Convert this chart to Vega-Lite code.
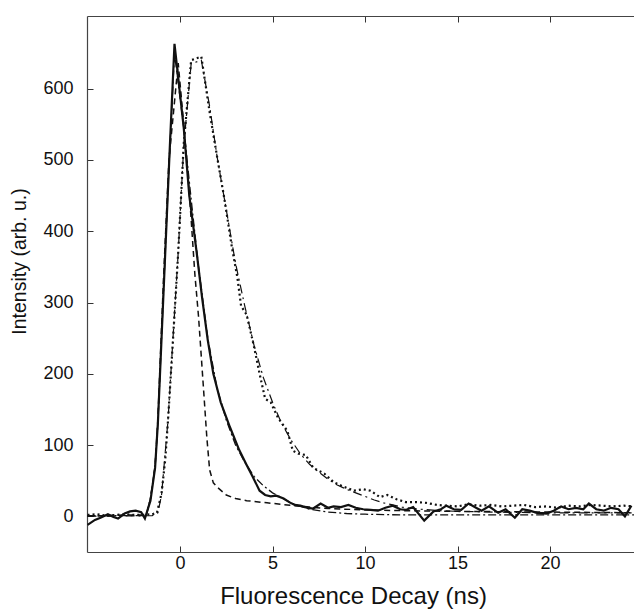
{
  "$schema": "https://vega.github.io/schema/vega-lite/v6.json",
  "autosize": {"type": "none"},
  "padding": {"left": 87, "top": 16, "right": 0, "bottom": 57},
  "width": 547,
  "height": 536,
  "background": "white",
  "config": {
    "view": {"stroke": null},
    "font": "Liberation Sans",
    "axis": {
      "grid": false,
      "domainColor": "#444",
      "domainWidth": 1.2,
      "tickColor": "#333",
      "tickWidth": 1,
      "tickSize": -6,
      "labelFont": "Liberation Sans",
      "labelFontSize": 18,
      "labelColor": "#111",
      "labelPadding": 20,
      "titleFont": "Liberation Sans",
      "titleFontWeight": "normal",
      "titleColor": "#111"
    }
  },
  "datasets": {
    "data1": [
      {"t": -5.0, "v": -12}, {"t": -4.6, "v": -5}, {"t": -4.3, "v": -2}, {"t": -3.9, "v": 3}, {"t": -3.6, "v": -1},
      {"t": -3.35, "v": -3}, {"t": -3.0, "v": 4}, {"t": -2.7, "v": 7}, {"t": -2.4, "v": 8}, {"t": -2.1, "v": 6},
      {"t": -1.9, "v": -3}, {"t": -1.6, "v": 22}, {"t": -1.35, "v": 68}, {"t": -1.2, "v": 130}, {"t": -1.0, "v": 250},
      {"t": -0.8, "v": 370}, {"t": -0.55, "v": 520}, {"t": -0.3, "v": 663}, {"t": 0.2, "v": 545}, {"t": 0.5, "v": 450},
      {"t": 0.9, "v": 370}, {"t": 1.2, "v": 305}, {"t": 1.5, "v": 247}, {"t": 1.8, "v": 200}, {"t": 2.2, "v": 160},
      {"t": 2.7, "v": 125}, {"t": 3.2, "v": 93}, {"t": 3.6, "v": 72}, {"t": 3.9, "v": 57}, {"t": 4.3, "v": 36},
      {"t": 4.6, "v": 30}, {"t": 4.9, "v": 28}, {"t": 5.2, "v": 29}, {"t": 5.6, "v": 25}, {"t": 5.9, "v": 20},
      {"t": 6.2, "v": 16}, {"t": 6.5, "v": 15}, {"t": 6.9, "v": 12}, {"t": 7.2, "v": 11}, {"t": 7.6, "v": 18},
      {"t": 8.0, "v": 12}, {"t": 8.3, "v": 14}, {"t": 8.7, "v": 13}, {"t": 9.1, "v": 16}, {"t": 9.5, "v": 12},
      {"t": 9.9, "v": 10}, {"t": 10.3, "v": 9}, {"t": 10.7, "v": 8}, {"t": 11.1, "v": 12}, {"t": 11.5, "v": 15},
      {"t": 11.9, "v": 10}, {"t": 12.2, "v": 9}, {"t": 12.6, "v": 13}, {"t": 13.2, "v": -6}, {"t": 13.7, "v": 7},
      {"t": 14.1, "v": 10}, {"t": 14.4, "v": 15}, {"t": 14.8, "v": 10}, {"t": 15.2, "v": 9}, {"t": 15.6, "v": 18},
      {"t": 16.0, "v": 12}, {"t": 16.3, "v": 8}, {"t": 16.7, "v": 14}, {"t": 17.2, "v": 5}, {"t": 17.6, "v": 10},
      {"t": 18.1, "v": -2}, {"t": 18.5, "v": 10}, {"t": 18.9, "v": 8}, {"t": 19.3, "v": 5}, {"t": 19.8, "v": 4},
      {"t": 20.2, "v": 8}, {"t": 20.6, "v": 14}, {"t": 21.0, "v": 10}, {"t": 21.4, "v": 12}, {"t": 21.8, "v": 10},
      {"t": 22.1, "v": 18}, {"t": 22.5, "v": 10}, {"t": 22.9, "v": 8}, {"t": 23.3, "v": 12}, {"t": 23.7, "v": 10},
      {"t": 24.05, "v": 0}, {"t": 24.4, "v": 15}
    ],
    "irf": [
      {"t": -5.0, "v": 0}, {"t": -4.0, "v": 1}, {"t": -3.0, "v": 2}, {"t": -2.0, "v": 2}, {"t": -1.8, "v": 4},
      {"t": -1.6, "v": 25}, {"t": -1.35, "v": 70}, {"t": -1.2, "v": 135}, {"t": -0.9, "v": 330}, {"t": -0.6, "v": 500},
      {"t": -0.1, "v": 636}, {"t": 0.2, "v": 550}, {"t": 0.5, "v": 455}, {"t": 0.8, "v": 340}, {"t": 1.0, "v": 280},
      {"t": 1.25, "v": 186}, {"t": 1.45, "v": 110}, {"t": 1.6, "v": 65}, {"t": 1.8, "v": 47}, {"t": 2.05, "v": 40},
      {"t": 2.5, "v": 30}, {"t": 3.0, "v": 25}, {"t": 3.6, "v": 22}, {"t": 4.7, "v": 19}, {"t": 5.8, "v": 16},
      {"t": 7.0, "v": 13}, {"t": 8.0, "v": 11}, {"t": 10.0, "v": 9}, {"t": 12.0, "v": 8}, {"t": 15.0, "v": 7},
      {"t": 20.0, "v": 6}, {"t": 24.6, "v": 5}
    ],
    "fit1": [
      {"t": -5.0, "v": 1}, {"t": -2.0, "v": 1}, {"t": -1.8, "v": 4}, {"t": -1.6, "v": 25}, {"t": -1.35, "v": 70},
      {"t": -1.2, "v": 130}, {"t": -1.0, "v": 250}, {"t": -0.6, "v": 490}, {"t": -0.3, "v": 650}, {"t": 0.2, "v": 545},
      {"t": 0.6, "v": 445}, {"t": 1.0, "v": 350}, {"t": 1.5, "v": 250}, {"t": 2.0, "v": 180}, {"t": 2.5, "v": 135},
      {"t": 3.0, "v": 100}, {"t": 3.5, "v": 76}, {"t": 4.0, "v": 56}, {"t": 4.5, "v": 43}, {"t": 5.0, "v": 33},
      {"t": 5.5, "v": 26}, {"t": 6.0, "v": 19}, {"t": 6.5, "v": 14}, {"t": 7.0, "v": 10}, {"t": 8.0, "v": 6},
      {"t": 9.0, "v": 4}, {"t": 10.0, "v": 3}, {"t": 12.0, "v": 2}, {"t": 15.0, "v": 2}, {"t": 24.6, "v": 2}
    ],
    "data2": [
      {"t": -5.0, "v": 2}, {"t": -4.5, "v": 3}, {"t": -4.0, "v": 1}, {"t": -3.5, "v": 2}, {"t": -3.0, "v": 3},
      {"t": -2.5, "v": 2}, {"t": -2.0, "v": 2}, {"t": -1.5, "v": 3}, {"t": -1.25, "v": 5}, {"t": -1.0, "v": 32},
      {"t": -0.8, "v": 80}, {"t": -0.65, "v": 135}, {"t": -0.4, "v": 240}, {"t": -0.1, "v": 370}, {"t": 0.2, "v": 523},
      {"t": 0.6, "v": 640}, {"t": 1.15, "v": 645}, {"t": 1.6, "v": 567}, {"t": 2.0, "v": 505}, {"t": 2.4, "v": 445},
      {"t": 2.8, "v": 378}, {"t": 3.1, "v": 335}, {"t": 3.3, "v": 295}, {"t": 3.6, "v": 283}, {"t": 4.0, "v": 238},
      {"t": 4.3, "v": 200}, {"t": 4.6, "v": 165}, {"t": 4.9, "v": 160}, {"t": 5.3, "v": 138}, {"t": 5.8, "v": 120},
      {"t": 6.1, "v": 92}, {"t": 6.4, "v": 88}, {"t": 6.8, "v": 86}, {"t": 7.2, "v": 68}, {"t": 7.8, "v": 60},
      {"t": 8.3, "v": 48}, {"t": 8.8, "v": 42}, {"t": 9.4, "v": 36}, {"t": 9.9, "v": 38}, {"t": 10.3, "v": 36},
      {"t": 10.8, "v": 27}, {"t": 11.2, "v": 30}, {"t": 11.7, "v": 24}, {"t": 12.2, "v": 20}, {"t": 12.8, "v": 20},
      {"t": 13.3, "v": 19}, {"t": 13.9, "v": 16}, {"t": 14.4, "v": 15}, {"t": 15.0, "v": 14}, {"t": 15.6, "v": 17},
      {"t": 16.2, "v": 15}, {"t": 16.8, "v": 16}, {"t": 17.4, "v": 14}, {"t": 18.0, "v": 15}, {"t": 18.6, "v": 16},
      {"t": 19.2, "v": 13}, {"t": 19.8, "v": 14}, {"t": 20.4, "v": 12}, {"t": 21.0, "v": 15}, {"t": 21.6, "v": 14},
      {"t": 22.2, "v": 16}, {"t": 22.8, "v": 15}, {"t": 23.4, "v": 14}, {"t": 24.0, "v": 15}, {"t": 24.5, "v": 14}
    ],
    "fit2": [
      {"t": -5.0, "v": 0}, {"t": -1.5, "v": 1}, {"t": -1.2, "v": 5}, {"t": -1.0, "v": 30}, {"t": -0.65, "v": 135},
      {"t": -0.1, "v": 370}, {"t": 0.2, "v": 520}, {"t": 0.6, "v": 635}, {"t": 1.15, "v": 640}, {"t": 1.6, "v": 575},
      {"t": 2.0, "v": 505}, {"t": 2.5, "v": 430}, {"t": 3.0, "v": 355}, {"t": 3.5, "v": 295}, {"t": 4.0, "v": 240},
      {"t": 4.5, "v": 195}, {"t": 5.0, "v": 160}, {"t": 5.5, "v": 130}, {"t": 6.0, "v": 107}, {"t": 6.5, "v": 88},
      {"t": 7.0, "v": 73}, {"t": 7.5, "v": 62}, {"t": 8.0, "v": 52}, {"t": 8.5, "v": 44}, {"t": 9.0, "v": 38},
      {"t": 9.5, "v": 33}, {"t": 10.0, "v": 28}, {"t": 10.5, "v": 23}, {"t": 11.0, "v": 19}, {"t": 11.5, "v": 16},
      {"t": 12.0, "v": 13}, {"t": 13.0, "v": 10}, {"t": 14.0, "v": 8}, {"t": 15.0, "v": 7}, {"t": 17.0, "v": 6},
      {"t": 20.0, "v": 5}, {"t": 24.6, "v": 5}
    ]
  },
  "resolve": {"axis": {"x": "independent", "y": "independent"}},
  "layer": [
    {
      "data": {"name": "irf"},
      "mark": {"type": "line", "clip": true, "color": "#111", "strokeWidth": 1.5, "strokeDash": [6, 4]},
      "encoding": {
        "x": {"field": "t", "type": "quantitative", "scale": {"domain": [-5.03, 24.54], "nice": false, "zero": false},
          "axis": {"orient": "bottom", "values": [0, 5, 10, 15, 20], "title": "Fluorescence Decay (ns)", "titleFontSize": 24,
            "labelPadding": 8,
            "titleX": 266, "titleY": 51, "titleBaseline": "alphabetic", "titleAnchor": null, "labelFlush": false}},
        "y": {"field": "v", "type": "quantitative", "scale": {"domain": [-50, 702], "nice": false, "zero": false},
          "axis": {"orient": "left", "values": [0, 100, 200, 300, 400, 500, 600], "title": "Intensity (arb. u.)", "titleFontSize": 19.5,
            "titleAngle": -90, "titleX": -68, "titleY": 245, "titleBaseline": "middle", "titleAlign": "center", "labelFlush": false}}
      }
    },
    {
      "data": {"name": "fit1"},
      "mark": {"type": "line", "clip": true, "color": "#111", "strokeWidth": 1.3, "strokeDash": [8, 3, 2, 3]},
      "encoding": {
        "x": {"field": "t", "type": "quantitative", "axis": {"orient": "top", "values": [0, 5, 10, 15, 20], "labels": false, "title": null}},
        "y": {"field": "v", "type": "quantitative", "axis": null}
      }
    },
    {
      "data": {"name": "fit2"},
      "mark": {"type": "line", "clip": true, "color": "#111", "strokeWidth": 1.2, "strokeDash": [9, 4, 2, 4]},
      "encoding": {
        "x": {"field": "t", "type": "quantitative", "axis": null},
        "y": {"field": "v", "type": "quantitative", "axis": null}
      }
    },
    {
      "data": {"name": "data2"},
      "mark": {"type": "line", "clip": true, "color": "#111", "strokeWidth": 2.2, "strokeDash": [2, 3]},
      "encoding": {
        "x": {"field": "t", "type": "quantitative", "axis": null},
        "y": {"field": "v", "type": "quantitative", "axis": null}
      }
    },
    {
      "data": {"name": "data1"},
      "mark": {"type": "line", "clip": true, "color": "#111", "strokeWidth": 2.2},
      "encoding": {
        "x": {"field": "t", "type": "quantitative", "axis": null},
        "y": {"field": "v", "type": "quantitative", "axis": null}
      }
    }
  ]
}
